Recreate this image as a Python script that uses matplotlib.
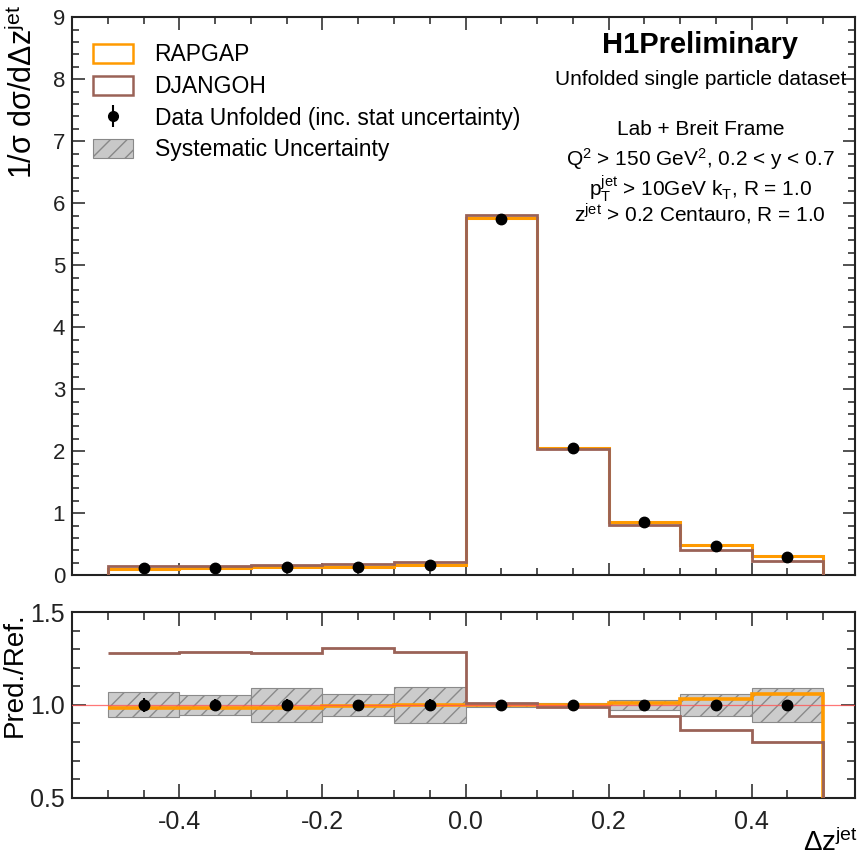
import matplotlib
matplotlib.use("Agg")
import matplotlib.pyplot as plt
import numpy as np
from matplotlib.patches import Patch
from matplotlib.ticker import MultipleLocator

plt.rcParams['font.family'] = ['Liberation Sans', 'DejaVu Sans']
plt.rcParams['mathtext.fontset'] = 'custom'
plt.rcParams['mathtext.rm'] = 'Liberation Sans'
plt.rcParams['mathtext.it'] = 'Liberation Sans'
plt.rcParams['hatch.color'] = '#4a4a4a'
plt.rcParams['hatch.linewidth'] = 1.0

# delta z^jet binning
edges = np.array([-0.5, -0.4, -0.3, -0.2, -0.1, 0.0, 0.1, 0.2, 0.3, 0.4, 0.5])
centres = 0.5 * (edges[1:] + edges[:-1])

# unfolded data and stat errors
data = np.array([0.11, 0.12, 0.13, 0.14, 0.16, 5.75, 2.05, 0.855, 0.47, 0.29])
stat_err = np.array([0.004, 0.004, 0.004, 0.004, 0.005, 0.03, 0.02, 0.01, 0.007, 0.006])

# relative systematic uncertainty
syst_rel = np.array([0.067, 0.055, 0.09, 0.06, 0.095, 0.012, 0.012, 0.025, 0.06, 0.093])

# MC predictions
rapgap = np.array([0.108, 0.118, 0.128, 0.139, 0.160, 5.76, 2.05, 0.864, 0.484, 0.307])
djangoh = np.array([0.141, 0.154, 0.166, 0.183, 0.206, 5.81, 2.03, 0.804, 0.407, 0.232])

c_rap = '#ff9a00'
c_dja = '#9a6257'

fig = plt.figure(figsize=(8.58, 8.56), dpi=100)
ax = fig.add_axes([0.084, 0.328, 0.913, 0.652])
rax = fig.add_axes([0.084, 0.068, 0.913, 0.217])

# ---- main panel
ax.stairs(rapgap, edges, baseline=0, color=c_rap, lw=2.2, zorder=3)
ax.stairs(djangoh, edges, baseline=0, color=c_dja, lw=2.0, zorder=4)
ax.errorbar(centres, data, yerr=stat_err, fmt='o', color='black', ms=7.5,
            elinewidth=1.5, capsize=0, zorder=5)

ax.set_xlim(-0.55, 0.545)
ax.set_ylim(0, 9)
ax.set_ylabel(r'1/$\sigma$ d$\sigma$/d$\Delta$z$^{\rm jet}$', fontsize=22,
              loc='top')
ax.yaxis.set_label_coords(-0.042, 1.022)
ax.yaxis.set_major_locator(MultipleLocator(1))
ax.yaxis.set_minor_locator(MultipleLocator(0.2))
ax.xaxis.set_major_locator(MultipleLocator(0.2))
ax.xaxis.set_minor_locator(MultipleLocator(0.05))
ax.tick_params(labelbottom=False)

data_handle = ax.errorbar([], [], yerr=[], fmt='o', color='black', ms=7,
                          elinewidth=1.5)
handles = [
    Patch(facecolor='none', edgecolor=c_rap, lw=1.8),
    Patch(facecolor='none', edgecolor=c_dja, lw=1.8),
    data_handle,
    Patch(facecolor='#c8c8c8', edgecolor='#888888', hatch='//', lw=0.8),
]
labels = ['RAPGAP', 'DJANGOH', 'Data Unfolded (inc. stat uncertainty)',
          'Systematic Uncertainty']
ax.legend(handles, labels, loc='upper left', bbox_to_anchor=(0.0, 0.99),
          frameon=False, fontsize=16.5, handlelength=1.75, handleheight=0.9,
          labelspacing=0.38, handletextpad=0.95, borderaxespad=0.5)

tx = 0.802
ax.text(tx, 0.95, 'H1Preliminary', transform=ax.transAxes, ha='center',
        va='center', fontsize=21, fontweight='bold')
ax.text(tx, 0.889, 'Unfolded single particle dataset', transform=ax.transAxes,
        ha='center', va='center', fontsize=15)
ax.text(tx, 0.798, 'Lab + Breit Frame', transform=ax.transAxes, ha='center',
        va='center', fontsize=15)
ax.text(tx, 0.746, r'Q$^{2}$ > 150 GeV$^{2}$, 0.2 < y < 0.7',
        transform=ax.transAxes, ha='center', va='center', fontsize=15)
ax.text(tx, 0.692, r'p$_{\rm T}^{\rm jet}$ > 10GeV k$_{\rm T}$, R = 1.0',
        transform=ax.transAxes, ha='center', va='center', fontsize=15)
ax.text(tx, 0.646, r'z$^{\rm jet}$ > 0.2 Centauro, R = 1.0',
        transform=ax.transAxes, ha='center', va='center', fontsize=15)

# ---- ratio panel (prediction / data)
r_rap = rapgap / data
r_dja = djangoh / data
for i in range(len(data)):
    rax.bar(centres[i], 2 * syst_rel[i], bottom=1 - syst_rel[i], width=0.1,
            facecolor='#cccccc', edgecolor='#8a8a8a', hatch='//', lw=0.8,
            zorder=1)
rax.stairs(r_rap, edges, baseline=None, color=c_rap, lw=2.6, zorder=3)
rax.plot([edges[-1], edges[-1]], [r_rap[-1], 0], color=c_rap, lw=2.6, zorder=3)
rax.stairs(r_dja, edges, baseline=None, color=c_dja, lw=2.0, zorder=4)
rax.plot([edges[-1], edges[-1]], [r_dja[-1], 0], color=c_dja, lw=2.0, zorder=4)
rax.axhline(1.0, color='#ff5555', lw=0.9, alpha=0.8, zorder=5)
rax.errorbar(centres, data / data, yerr=stat_err / data, fmt='o',
             color='black', ms=7.5, elinewidth=1.5, capsize=0, zorder=6)

rax.set_xlim(-0.55, 0.545)
rax.set_ylim(0.5, 1.5)
rax.set_ylabel('Pred./Ref.', fontsize=20, loc='top')
rax.yaxis.set_label_coords(-0.056, 1.0)
rax.set_xlabel(r'$\Delta$z$^{\rm jet}$', fontsize=20, loc='right')
rax.xaxis.set_label_coords(1.003, -0.165)
rax.yaxis.set_minor_locator(MultipleLocator(0.1))
rax.xaxis.set_minor_locator(MultipleLocator(0.05))
rax.set_yticks([0.5, 1.0, 1.5], ['0.5', '1.0', '1.5'])
rax.set_xticks([-0.4, -0.2, 0.0, 0.2, 0.4], ['-0.4', '-0.2', '0.0', '0.2', '0.4'])

for a in (ax, rax):
    a.tick_params(which='both', direction='in', top=True, right=True,
                  width=1.1, colors='#222222')
    for s in a.spines.values():
        s.set_linewidth(1.5)
        s.set_color('#222222')
ax.tick_params(which='major', length=9, labelsize=16, pad=5)
ax.tick_params(which='minor', length=5)
rax.tick_params(which='major', length=10, labelsize=18, pad=5)
rax.tick_params(which='minor', length=6)
rax.tick_params(axis='x', which='major', labelsize=18, pad=9)

fig.savefig('out.png', dpi=100)
